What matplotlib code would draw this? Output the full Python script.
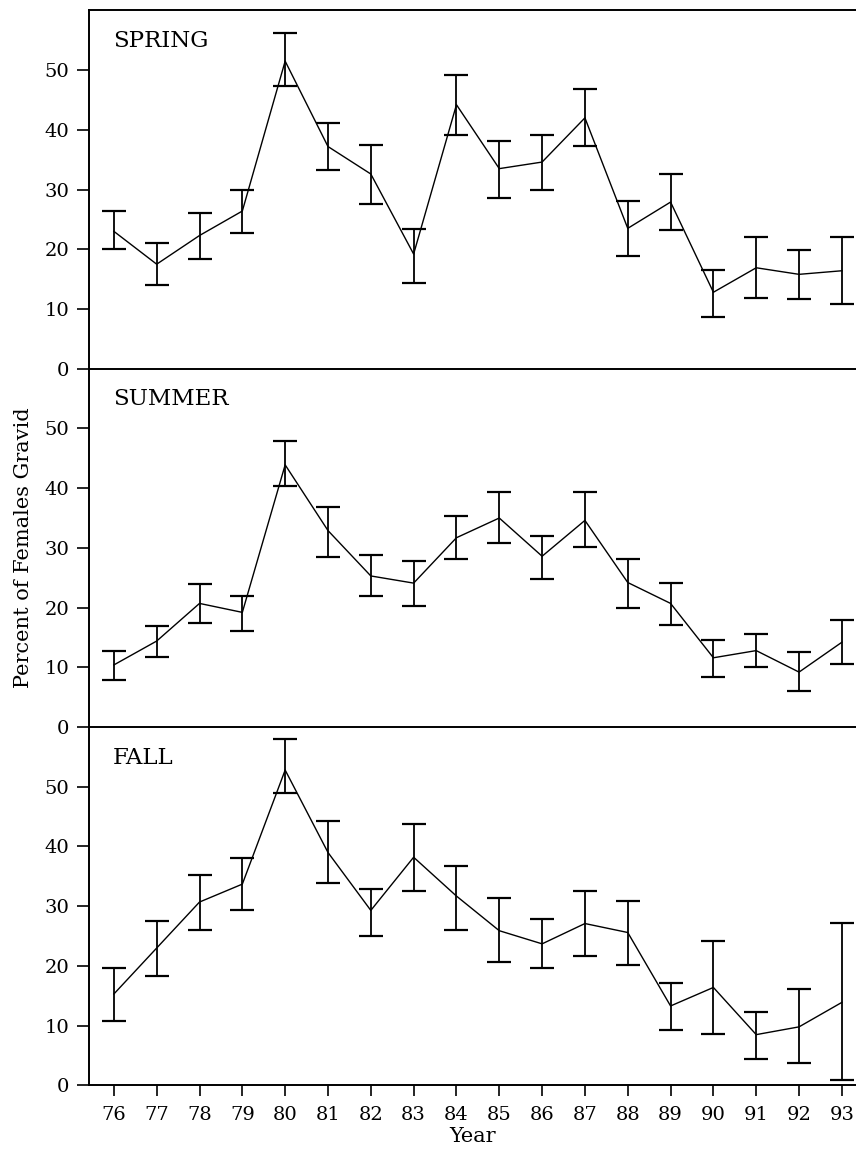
import numpy as np
import matplotlib.pyplot as plt

years = np.arange(76, 94)
year_labels = [str(y) for y in years]

# Spring
spring_mean = [23, 17.5, 22.3, 26.4, 51.5, 37.2, 32.6, 19.2, 44.2, 33.5, 34.6, 42, 23.5, 27.9, 12.8, 16.9, 15.8, 16.4]
spring_hi = [26.4, 21, 26.1, 30, 56.2, 41.2, 37.5, 23.4, 49.1, 38.2, 39.2, 46.8, 28, 32.6, 16.5, 22, 19.8, 22]
spring_lo = [20, 14, 18.4, 22.8, 47.3, 33.2, 27.6, 14.4, 39.2, 28.6, 29.9, 37.3, 18.8, 23.3, 8.7, 11.9, 11.7, 10.9]

# Summer
summer_mean = [10.4, 14.4, 20.7, 19.2, 43.9, 32.9, 25.3, 24.1, 31.7, 35, 28.6, 34.6, 24.2, 20.7, 11.6, 12.8, 9.2, 14.2]
summer_hi = [12.8, 17, 24, 22, 47.9, 36.9, 28.8, 27.8, 35.3, 39.3, 32, 39.3, 28.1, 24.2, 14.6, 15.6, 12.5, 18]
summer_lo = [7.8, 11.7, 17.5, 16.1, 40.3, 28.4, 22, 20.2, 28.2, 30.9, 24.8, 30.2, 19.9, 17.1, 8.3, 10, 6, 10.5]

# Fall
fall_mean = [15.3, 23, 30.7, 33.7, 52.8, 39, 29.3, 38.2, 31.7, 25.9, 23.7, 27.1, 25.6, 13.3, 16.4, 8.5, 9.8, 13.9]
fall_hi = [19.6, 27.5, 35.3, 38, 58, 44.2, 32.9, 43.8, 36.8, 31.3, 27.9, 32.5, 30.9, 17.2, 24.2, 12.3, 16.1, 27.2]
fall_lo = [10.7, 18.4, 26.1, 29.4, 49, 33.9, 25, 32.6, 26.1, 20.6, 19.6, 21.7, 20.1, 9.3, 8.6, 4.4, 3.8, 0.9]

seasons = ['SPRING', 'SUMMER', 'FALL']
series = [(spring_mean, spring_lo, spring_hi),
          (summer_mean, summer_lo, summer_hi),
          (fall_mean, fall_lo, fall_hi)]

serif = 'DejaVu Serif'
plt.rcParams['font.family'] = serif

fig, axes = plt.subplots(3, 1, sharex=True, figsize=(8.56, 11.51), dpi=100)
fig.subplots_adjust(left=0.104, right=1.0, top=0.991, bottom=0.057, hspace=0)


def draw_panel(ax, name, mean, lo, hi):
    mean = np.array(mean)
    err = [mean - np.array(lo), np.array(hi) - mean]
    ax.errorbar(years, mean, yerr=err, color='black', lw=1.0, elinewidth=1.3,
                capsize=8.5, capthick=1.6)
    ax.set_ylim(0, 60)
    ax.set_xlim(75.42, 93.33)
    ax.set_yticks([0, 10, 20, 30, 40, 50])
    ax.tick_params(axis='y', direction='out', length=9, width=1.2, pad=5, labelsize=14)
    ax.tick_params(axis='x', direction='out', length=8, width=1.2, pad=7, labelsize=14)
    ax.spines['right'].set_visible(False)
    for s in ['left', 'bottom', 'top']:
        ax.spines[s].set_linewidth(1.4)
    # фон прозрачный, чтобы нижняя рамка верхней панели не перекрывалась
    ax.patch.set_visible(False)
    ax.text(0.031, 0.915, name, transform=ax.transAxes, fontsize=16.5,
            va='center', ha='left', family=serif)


for ax, name, (m, lo, hi) in zip(axes, seasons, series):
    draw_panel(ax, name, m, lo, hi)

# только у верхней панели есть верхняя рамка, засечки по X только внизу
axes[1].spines['top'].set_visible(False)
axes[2].spines['top'].set_visible(False)
axes[0].tick_params(axis='x', length=0)
axes[1].tick_params(axis='x', length=0)

axes[2].set_xticks(years)
axes[2].set_xticklabels(year_labels)
axes[2].set_xlabel('Year', fontsize=15, labelpad=2)

fig.text(0.027, 0.524, 'Percent of Females Gravid', rotation=90, fontsize=15,
         va='center', ha='center', family=serif)

fig.savefig('out.png', dpi=100)
